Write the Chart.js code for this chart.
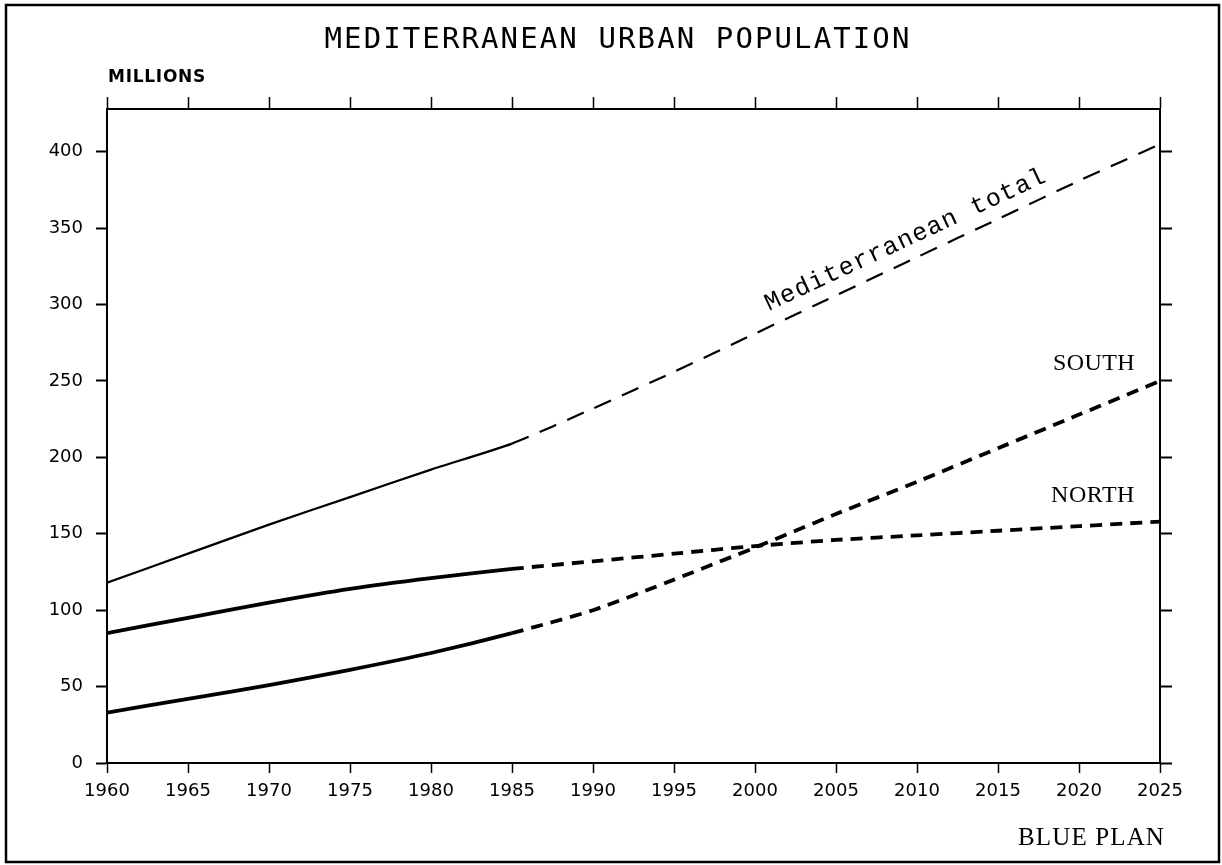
<!DOCTYPE html>
<html>
<head>
<meta charset="utf-8">
<script src="https://cdn.jsdelivr.net/npm/chart.js@4"></script>
<style>
  html, body { margin: 0; padding: 0; background: #ffffff; }
  #wrap { width: 1222px; height: 865px; }
</style>
</head>
<body>
<div id="wrap"><canvas id="c" width="1222" height="865"></canvas></div>
<script>
// ---- data (millions of urban inhabitants) ----
const years = [1960, 1965, 1970, 1975, 1980, 1985, 1990, 1995, 2000, 2005, 2010, 2015, 2020, 2025];
const totalUrban = [118, 137, 156, 174, 192, 209, 232, 256, 281, 306, 331, 356, 381, 405];
const southUrban = [33, 42, 51, 61, 72, 85, 100, 120, 141, 163, 184, 206, 228, 250];
const northUrban = [85, 95, 105, 114, 121, 127, 132, 137, 142, 146, 149, 152, 155, 158];
const yTickValues = [0, 50, 100, 150, 200, 250, 300, 350, 400];
const xTickValues = [1960, 1965, 1970, 1975, 1980, 1985, 1990, 1995, 2000, 2005, 2010, 2015, 2020, 2025];
const projectionStart = 1985;

const titleText = 'MEDITERRANEAN URBAN POPULATION';
const unitText = 'MILLIONS';
const sourceText = 'BLUE PLAN';
const totalLabel = 'Mediterranean total';
const southLabel = 'SOUTH';
const northLabel = 'NORTH';

function pts(vals) { return years.map((y, i) => ({ x: y, y: vals[i] })); }

function series(vals, width, dash) {
  return {
    data: pts(vals),
    borderColor: '#000',
    borderWidth: width,
    pointRadius: 0,
    fill: false,
    tension: 0.2,
    borderCapStyle: 'butt',
    segment: {
      borderDash: ctx => ctx.p0.parsed.x >= projectionStart ? dash : undefined
    }
  };
}

function drawSpaced(ctx, text, x, y, targetWidth, align) {
  ctx.letterSpacing = '0px';
  const w = ctx.measureText(text).width;
  const n = text.length;
  const sp = (targetWidth - w) / n;
  ctx.letterSpacing = sp + 'px';
  let x0 = x;
  if (align === 'center') x0 = x - targetWidth / 2;
  ctx.textAlign = 'left';
  ctx.fillText(text, x0, y);
  ctx.letterSpacing = '0px';
}

const decorations = {
  id: 'decorations',
  afterDraw(chart) {
    const ctx = chart.ctx;
    ctx.save();
    // outer frame
    ctx.strokeStyle = '#000';
    ctx.lineWidth = 2.5;
    ctx.strokeRect(6, 5, 1213, 857);

    ctx.fillStyle = '#000';
    ctx.textBaseline = 'alphabetic';

    // title
    ctx.font = 'normal 29px "DejaVu Sans Mono"';
    drawSpaced(ctx, titleText, 618, 48, 587, 'center');

    // unit label
    ctx.font = 'bold 17px "DejaVu Sans"';
    drawSpaced(ctx, unitText, 108, 82, 98, 'left');

    // source
    ctx.font = 'normal 25px "Liberation Serif"';
    drawSpaced(ctx, sourceText, 1018, 845, 147, 'left');

    // series labels
    ctx.font = 'normal 24px "Liberation Serif"';
    drawSpaced(ctx, southLabel, 1053, 370, 82, 'left');
    drawSpaced(ctx, northLabel, 1051, 502, 84, 'left');

    // rotated total label
    ctx.save();
    ctx.translate(769, 311);
    ctx.rotate(-25 * Math.PI / 180);
    ctx.font = 'normal 25px "Liberation Mono"';
    drawSpaced(ctx, totalLabel, 0, 0, 308, 'left');
    ctx.restore();

    ctx.restore();
  }
};

const tickFont = { family: '"DejaVu Sans"', size: 18 };

function onlyValues(list) {
  return scale => { scale.ticks = list.map(v => ({ value: v })); };
}

new Chart(document.getElementById('c'), {
  type: 'line',
  data: {
    datasets: [
      series(totalUrban, 2.2, [18, 12]),
      series(southUrban, 3.8, [12, 8]),
      series(northUrban, 3.8, [12, 8])
    ]
  },
  options: {
    responsive: false,
    animation: false,
    devicePixelRatio: 1,
    layout: { padding: 0 },
    plugins: { legend: { display: false }, title: { display: false }, tooltip: { enabled: false } },
    scales: {
      x: {
        type: 'linear', position: 'bottom', min: 1960, max: 2025,
        afterBuildTicks: onlyValues(xTickValues),
        afterFit: s => { s.height = 102; },
        ticks: { color: '#000', font: tickFont, padding: 8, maxRotation: 0, autoSkip: false, callback: v => String(v) },
        grid: { drawOnChartArea: false, drawTicks: true, tickLength: 10, tickColor: '#000', tickWidth: 1.5 },
        border: { display: true, color: '#000', width: 2 }
      },
      x2: {
        type: 'linear', position: 'top', min: 1960, max: 2025,
        afterBuildTicks: onlyValues(xTickValues),
        afterFit: s => { s.height = 109; },
        ticks: { display: false },
        grid: { drawOnChartArea: false, drawTicks: true, tickLength: 12, tickColor: '#000', tickWidth: 1.5 },
        border: { display: true, color: '#000', width: 2 }
      },
      y: {
        type: 'linear', position: 'left', min: 0, max: 428,
        afterBuildTicks: onlyValues(yTickValues),
        afterFit: s => { s.width = 107; },
        ticks: { color: '#000', font: tickFont, padding: 13, callback: v => String(v) },
        grid: { drawOnChartArea: false, drawTicks: true, tickLength: 11, tickColor: '#000', tickWidth: 2 },
        border: { display: true, color: '#000', width: 2 }
      },
      y2: {
        type: 'linear', position: 'right', min: 0, max: 428,
        afterBuildTicks: onlyValues(yTickValues),
        afterFit: s => { s.width = 62; },
        ticks: { display: false },
        grid: { drawOnChartArea: false, drawTicks: true, tickLength: 12, tickColor: '#000', tickWidth: 2 },
        border: { display: true, color: '#000', width: 2 }
      }
    }
  },
  plugins: [decorations]
});
</script>
</body>
</html>
